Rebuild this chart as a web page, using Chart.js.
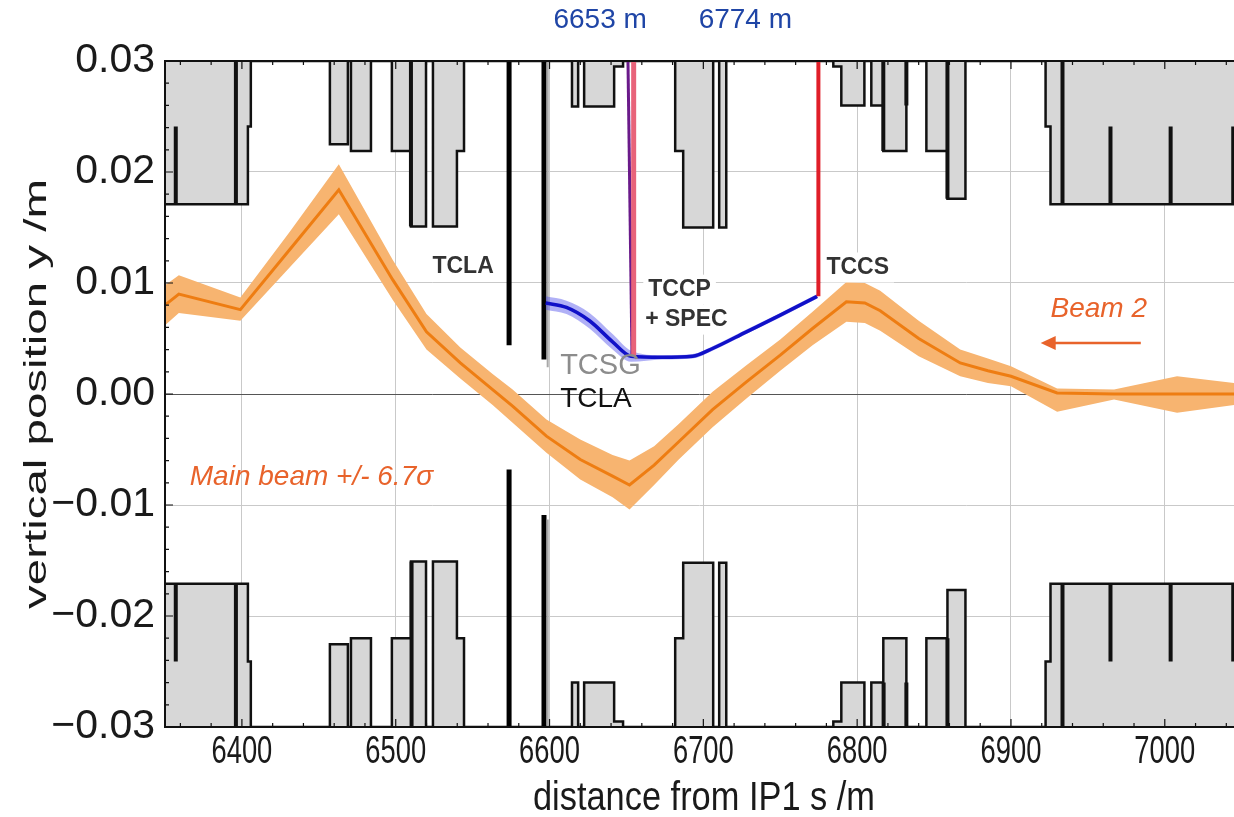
<!DOCTYPE html>
<html><head><meta charset="utf-8">
<script src="https://cdn.jsdelivr.net/npm/chart.js@4.4.1/dist/chart.umd.min.js"></script>
<style>html,body{margin:0;padding:0;background:#fff}canvas{display:block}</style>
</head><body>
<canvas id="c" width="1234" height="817"></canvas>
<script>
// ---------------- data ----------------
const xTickValues = [6400, 6500, 6600, 6700, 6800, 6900, 7000];
const xTickLabels = ['6400', '6500', '6600', '6700', '6800', '6900', '7000'];
const yTickValues = [-0.03, -0.02, -0.01, 0, 0.01, 0.02, 0.03];
const yTickLabels = ['\u22120.03', '\u22120.02', '\u22120.01', '0.00', '0.01', '0.02', '0.03'];

// main beam (Beam 2) centre and +/- 6.7 sigma envelope
const beamS      = [6350, 6359, 6399, 6431, 6463, 6498, 6520, 6542, 6563, 6576, 6598, 6620, 6641, 6652, 6668, 6684, 6706, 6728, 6750, 6771, 6793, 6805, 6815, 6840, 6867, 6885, 6900, 6930, 6967, 7008, 7045];
const beamCentre = [0.0080, 0.0090, 0.0076, 0.0130, 0.0184, 0.0103, 0.0056, 0.0028, 0.0004, -0.0011, -0.0038, -0.0059, -0.0074, -0.0082, -0.0064, -0.0043, -0.0014, 0.0011, 0.0035, 0.0059, 0.0083, 0.0082, 0.0075, 0.0050, 0.0028, 0.0021, 0.0016, 0.0001, 0.0000, 0.0000, 0.0000];
const beamUpper  = [0.0098, 0.0107, 0.0087, 0.0146, 0.0207, 0.0121, 0.0072, 0.0042, 0.0018, 0.0004, -0.0023, -0.0041, -0.0055, -0.0060, -0.0047, -0.0027, 0.0002, 0.0026, 0.0049, 0.0074, 0.0101, 0.0100, 0.0093, 0.0066, 0.0040, 0.0032, 0.0025, 0.0005, 0.0004, 0.0016, 0.0010];
const beamLower  = [0.0062, 0.0073, 0.0066, 0.0114, 0.0162, 0.0085, 0.0040, 0.0014, -0.0010, -0.0026, -0.0053, -0.0077, -0.0093, -0.0104, -0.0082, -0.0059, -0.0030, -0.0004, 0.0021, 0.0044, 0.0065, 0.0064, 0.0057, 0.0034, 0.0016, 0.0010, 0.0007, -0.0016, -0.0005, -0.0017, -0.0010];

// channelled (deflected) halo between the crystals
const haloS     = [6597.5, 6611, 6626, 6641, 6653, 6673, 6693, 6706, 6728, 6750, 6774];
const haloY     = [0.0082, 0.0078, 0.0066, 0.0047, 0.0034, 0.0033, 0.0034, 0.0041, 0.0056, 0.0071, 0.0088];
const haloUpper = [0.0088, 0.0084, 0.0073, 0.0054, 0.0039, 0.0035, 0.0036, 0.0043, 0.0058, 0.0073, 0.0090];
const haloLower = [0.0076, 0.0072, 0.0059, 0.0040, 0.0029, 0.0031, 0.0032, 0.0039, 0.0054, 0.0069, 0.0086];

// machine aperture (step profile, value holds until next s)
const apertureTopS = [6350, 6403.9, 6405.8, 6457.2, 6468.9, 6470.9, 6483.9, 6497.5, 6509.9, 6519.7, 6524.2, 6539.8, 6544.4, 6614.6, 6618.6, 6622.5, 6642.0, 6647.8, 6681.7, 6686.9, 6706.4, 6710.3, 6714.9, 6784.5, 6789.7, 6804.7, 6809.2, 6817.0, 6832.0, 6845.0, 6858.7, 6870.4, 6922.5, 6925.7, 7045];
const apertureTopY = [0.0171, 0.0241, 0.03, 0.0225, 0.03, 0.0219, 0.03, 0.0219, 0.0151, 0.03, 0.0151, 0.0219, 0.03, 0.0259, 0.03, 0.0259, 0.0295, 0.03, 0.0219, 0.0150, 0.03, 0.0150, 0.03, 0.0295, 0.0260, 0.03, 0.0260, 0.0219, 0.03, 0.0219, 0.0176, 0.03, 0.0241, 0.0171, 0.0171];
const apertureBottomS = [6350, 6403.9, 6405.8, 6457.2, 6468.9, 6470.9, 6483.9, 6497.5, 6509.9, 6519.7, 6524.2, 6539.8, 6544.4, 6614.6, 6618.6, 6622.5, 6642.0, 6647.8, 6681.7, 6686.9, 6706.4, 6710.3, 6714.9, 6784.5, 6789.7, 6804.7, 6809.2, 6817.0, 6832.0, 6845.0, 6858.7, 6870.4, 6922.5, 6925.7, 7045];
const apertureBottomY = [-0.0171, -0.0241, -0.03, -0.02255, -0.03, -0.0220, -0.03, -0.0220, -0.0151, -0.03, -0.0151, -0.0220, -0.03, -0.0260, -0.03, -0.0260, -0.0295, -0.03, -0.0220, -0.0152, -0.03, -0.0152, -0.03, -0.0295, -0.0260, -0.03, -0.0260, -0.0220, -0.03, -0.0220, -0.01765, -0.03, -0.0241, -0.0171, -0.0171];

// thick element boundaries inside the aperture blocks
const markS    = [6357.0, 6396.1, 6509.9, 6817.0, 6832.0, 6858.7, 6933.5, 6964.7, 7003.8, 7044.5, 6357.0, 6396.1, 6510.3, 6817.2, 6832.0, 6858.7, 6933.5, 6964.7, 7003.8, 7044.5];
const markFrom = [0.0241, 0.03, 0.03, 0.03, 0.03, 0.03, 0.03, 0.0241, 0.0241, 0.0241, -0.0171, -0.0171, -0.0151, -0.0260, -0.0260, -0.0220, -0.0171, -0.0171, -0.0171, -0.0171];
const markTo   = [0.0171, 0.0171, 0.0151, 0.0219, 0.0260, 0.0176, 0.0171, 0.0171, 0.0171, 0.0171, -0.0241, -0.03, -0.03, -0.03, -0.03, -0.03, -0.03, -0.0241, -0.0241, -0.0241];

// collimator jaws (TCLA, TCLA) and TCSG
const jawS    = [6573.7, 6573.7, 6596.4, 6596.4];
const jawFrom = [0.03, -0.0068, 0.03, -0.0109];
const jawTo   = [0.0044, -0.03, 0.0031, -0.03];
const tcsgS    = [6598.8, 6598.8];
const tcsgFrom = [0.03, -0.0113];
const tcsgTo   = [0.0024, -0.03];

// crystals: TCCP (6653 m) and TCCS (6774 m)
const tccpS = [6654.7, 6654.7];      const tccpY = [0.03, 0.0034];
const specS = [6651.0, 6653.6];      const specY = [0.03, 0.0036];
const tccsS = [6774.8, 6774.8];      const tccsY = [0.03, 0.0088];

// annotations (text, s position, y position)
const noteText = ['TCLA', 'TCCP', '+ SPEC', 'TCCS', 'TCSG', 'TCLA', 'Main beam +/- 6.7\u03c3', 'Beam 2', '6653 m', '6774 m'];
const noteS    = [6543.8, 6664.2, 6662.2, 6780.0, 6606.9, 6606.9, 6366.1, 6925.7, 6632.9, 6727.3];
const noteY    = [0.01147, 0.0094, 0.0067, 0.0114, 0.0025, -0.0005, -0.0075, 0.0076, 0.0337, 0.0337];
const arrowS = [6984.4, 6919.3];
const arrowY = [0.0046, 0.0046];

// ---------------- helpers ----------------
const pts = (xs, ys) => xs.map((x, i) => ({x: x, y: ys[i]}));
const segs = (xs, a, b) => { const o = []; xs.forEach((x, i) => { o.push({x: x, y: a[i]}, {x: x, y: b[i]}, {x: x, y: null}); }); return o; };

const noteStyle = [
  {font: 'bold 23px "Liberation Sans"', color: '#333', align: 'center', box: false},
  {font: 'bold 23px "Liberation Sans"', color: '#333', align: 'left', box: true},
  {font: 'bold 23px "Liberation Sans"', color: '#333', align: 'left', box: true},
  {font: 'bold 23px "Liberation Sans"', color: '#333', align: 'left', box: true},
  {font: '29px "Liberation Sans"', color: '#8c8c8c', align: 'left', box: false},
  {font: '28px "Liberation Sans"', color: '#111', align: 'left', box: false},
  {font: 'italic 28px "Liberation Sans"', color: '#e8632b', align: 'left', box: false},
  {font: 'italic 28px "Liberation Sans"', color: '#e8632b', align: 'left', box: false},
  {font: '28px "Liberation Sans"', color: '#1f45a6', align: 'center', box: false},
  {font: '28px "Liberation Sans"', color: '#1f45a6', align: 'center', box: false}
];

// the x tick labels of the original are set in a narrow face: squeeze them horizontally
const narrowX = {
  id: 'narrowX',
  afterLayout(chart) {
    const sc = chart.scales.x;
    if (!sc || sc._narrowed) return;
    sc._narrowed = true;
    const orig = sc.drawLabels;
    sc.drawLabels = function (area) {
      const ctx = this.ctx;
      const ft = CanvasRenderingContext2D.prototype.fillText;
      ctx.fillText = function (t, x, y) { return ft.call(this, t, x, y, this.measureText(t).width * 0.72); };
      try { orig.call(this, area); } finally { delete ctx.fillText; }
    };
  }
};

const decor = {
  id: 'decor',
  afterDatasetsDraw(chart) {
    const ctx = chart.ctx, xs = chart.scales.x, ys = chart.scales.y, a = chart.chartArea;
    ctx.save();
    // inward frame ticks
    ctx.strokeStyle = '#111'; ctx.lineWidth = 1.2;
    ctx.beginPath();
    for (let s = 6360; s <= 7045; s += 20) {
      const px = xs.getPixelForValue(s), L = (s % 100 === 0) ? 8 : 4;
      ctx.moveTo(px, a.bottom); ctx.lineTo(px, a.bottom - L);
      ctx.moveTo(px, a.top); ctx.lineTo(px, a.top + L);
    }
    for (let k = -14; k <= 14; k++) {
      const py = ys.getPixelForValue(k * 0.002), L = (k % 5 === 0) ? 8 : 4;
      ctx.moveTo(a.left, py); ctx.lineTo(a.left + L, py);
    }
    ctx.stroke();
    // frame
    ctx.strokeStyle = '#111'; ctx.lineWidth = 2;
    ctx.beginPath();
    ctx.moveTo(a.right + 2, a.top); ctx.lineTo(a.left, a.top); ctx.lineTo(a.left, a.bottom); ctx.lineTo(a.right + 2, a.bottom);
    ctx.stroke();
    // annotations
    ctx.textBaseline = 'middle';
    noteText.forEach((t, i) => {
      const st = noteStyle[i];
      const px = xs.getPixelForValue(noteS[i]), py = ys.getPixelForValue(noteY[i]);
      ctx.font = st.font; ctx.textAlign = st.align;
      if (st.box) {
        const w = ctx.measureText(t).width;
        ctx.fillStyle = '#fff';
        ctx.fillRect(px - 5, py - 15, w + 10, 30);
      }
      ctx.fillStyle = st.color;
      ctx.fillText(t, px, py);
    });
    // Beam 2 arrow
    const x1 = xs.getPixelForValue(arrowS[0]), x2 = xs.getPixelForValue(arrowS[1]), ay = ys.getPixelForValue(arrowY[0]);
    ctx.strokeStyle = '#e8632b'; ctx.fillStyle = '#e8632b'; ctx.lineWidth = 2.5;
    ctx.beginPath(); ctx.moveTo(x1, ay); ctx.lineTo(x2 + 12, ay); ctx.stroke();
    ctx.beginPath(); ctx.moveTo(x2, ay); ctx.lineTo(x2 + 15, ay - 7); ctx.lineTo(x2 + 15, ay + 7); ctx.closePath(); ctx.fill();
    // axis titles
    ctx.fillStyle = '#1a1a1a';
    ctx.font = '40px "Liberation Sans"';
    ctx.textAlign = 'center'; ctx.textBaseline = 'middle';
    ctx.fillText('distance from IP1 s /m', (a.left + 1243) / 2, 799, 342);
    ctx.font = '32px "Liberation Sans"';
    const yt = 'vertical position y /m';
    const k = 430 / ctx.measureText(yt).width;
    ctx.translate(37, (a.top + a.bottom) / 2);
    ctx.rotate(-Math.PI / 2);
    ctx.scale(k, 1);
    ctx.fillText(yt, 0, 0);
    ctx.restore();
  }
};

const lineBase = {pointRadius: 0, pointHoverRadius: 0, tension: 0, spanGaps: false};

new Chart(document.getElementById('c'), {
  type: 'line',
  data: {
    datasets: [
      Object.assign({}, lineBase, {label: 'TCCS 6774 m', data: pts(tccsS, tccsY), borderColor: '#e01e28', borderWidth: 4, fill: false, order: 1}),
      Object.assign({}, lineBase, {label: 'TCCP 6653 m', data: pts(tccpS, tccpY), borderColor: '#e8637a', borderWidth: 5, fill: false, order: 2}),
      Object.assign({}, lineBase, {label: 'SPEC', data: pts(specS, specY), borderColor: '#6a1a8a', borderWidth: 3, fill: false, order: 3}),
      Object.assign({}, lineBase, {label: 'channelled halo', data: pts(haloS, haloY), borderColor: '#1010c8', borderWidth: 3.5, fill: false, cubicInterpolationMode: 'monotone', order: 4}),
      Object.assign({}, lineBase, {label: 'halo upper', data: pts(haloS, haloUpper), borderWidth: 0, borderColor: 'rgba(0,0,0,0)', backgroundColor: 'rgba(80,80,235,0.45)', fill: '+1', cubicInterpolationMode: 'monotone', order: 5}),
      Object.assign({}, lineBase, {label: 'halo lower', data: pts(haloS, haloLower), borderWidth: 0, borderColor: 'rgba(0,0,0,0)', fill: false, cubicInterpolationMode: 'monotone', order: 6}),
      Object.assign({}, lineBase, {label: 'Beam 2 centre', data: pts(beamS, beamCentre), borderColor: '#ee7d12', borderWidth: 3, fill: false, order: 7}),
      Object.assign({}, lineBase, {label: 'beam upper', data: pts(beamS, beamUpper), borderWidth: 0, borderColor: 'rgba(0,0,0,0)', backgroundColor: '#f7b470', fill: '+1', order: 8}),
      Object.assign({}, lineBase, {label: 'beam lower', data: pts(beamS, beamLower), borderWidth: 0, borderColor: 'rgba(0,0,0,0)', fill: false, order: 9}),
      Object.assign({}, lineBase, {label: 'TCSG', data: segs(tcsgS, tcsgFrom, tcsgTo), borderColor: '#a8a8a8', borderWidth: 2, fill: false, order: 10}),
      Object.assign({}, lineBase, {label: 'TCLA', data: segs(jawS, jawFrom, jawTo), borderColor: '#000', borderWidth: 5, fill: false, order: 11}),
      Object.assign({}, lineBase, {label: 'element marks', data: segs(markS, markFrom, markTo), borderColor: '#111', borderWidth: 4, fill: false, order: 12}),
      Object.assign({}, lineBase, {label: 'aperture top', data: pts(apertureTopS, apertureTopY), stepped: 'before', borderColor: '#111', borderWidth: 2.5, backgroundColor: '#d7d7d7', fill: 'end', order: 13}),
      Object.assign({}, lineBase, {label: 'aperture bottom', data: pts(apertureBottomS, apertureBottomY), stepped: 'before', borderColor: '#111', borderWidth: 2.5, backgroundColor: '#d7d7d7', fill: 'start', order: 14})
    ]
  },
  options: {
    responsive: false,
    animation: false,
    events: [],
    layout: {padding: {top: 61, left: 0, right: 0, bottom: 0}},
    plugins: {legend: {display: false}, tooltip: {enabled: false}},
    scales: {
      x: {
        type: 'linear', min: 6350, max: 7045,
        afterBuildTicks: s => { s.ticks = xTickValues.map(v => ({value: v})); },
        afterFit: s => { s.height = 90; },
        ticks: {
          callback: v => xTickLabels[xTickValues.indexOf(v)],
          font: {family: '"Liberation Sans", sans-serif', size: 38},
          color: '#1a1a1a', padding: 3, maxRotation: 0, autoSkip: false
        },
        grid: {color: '#c9c9c9', lineWidth: 1, drawTicks: false},
        border: {display: false}
      },
      y: {
        type: 'linear', min: -0.03, max: 0.03,
        afterBuildTicks: s => { s.ticks = yTickValues.map(v => ({value: v})); },
        afterFit: s => { s.width = 165; },
        ticks: {
          callback: v => yTickLabels[yTickValues.findIndex(t => Math.abs(t - v) < 1e-9)],
          font: {family: '"Liberation Sans", sans-serif', size: 41},
          color: '#1a1a1a', padding: 10, autoSkip: false
        },
        grid: {
          color: c => (c.tick && Math.abs(c.tick.value) < 1e-9) ? '#555' : '#c9c9c9',
          lineWidth: 1, drawTicks: false
        },
        border: {display: false}
      }
    }
  },
  plugins: [narrowX, decor]
});
</script>
</body></html>
